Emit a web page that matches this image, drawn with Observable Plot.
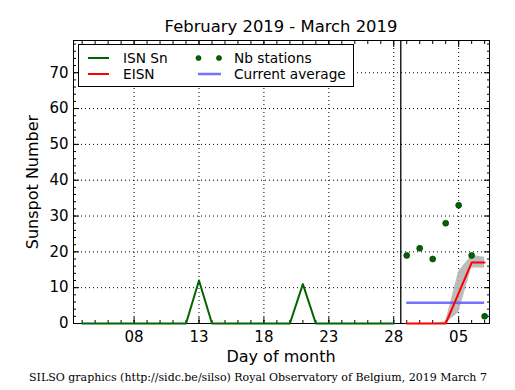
<!DOCTYPE html>
<html><head><meta charset="utf-8">
<script src="https://cdn.jsdelivr.net/npm/d3@7"></script>
<script src="https://cdn.jsdelivr.net/npm/@observablehq/plot@0.6"></script>
<style>body{margin:0;background:#fff} svg{display:block}</style>
</head><body><div id="chart"></div>
<script>
// ---- data ----
const isnDays = ["2019-02-04","2019-02-05","2019-02-06","2019-02-07","2019-02-08","2019-02-09","2019-02-10","2019-02-11","2019-02-12","2019-02-13","2019-02-14","2019-02-15","2019-02-16","2019-02-17","2019-02-18","2019-02-19","2019-02-20","2019-02-21","2019-02-22","2019-02-23","2019-02-24","2019-02-25","2019-02-26","2019-02-27","2019-02-28"];
const isnValues = [0,0,0,0,0,0,0,0,0,12,0,0,0,0,0,0,0,11,0,0,0,0,0,0,0];
const curDays = ["2019-03-01","2019-03-02","2019-03-03","2019-03-04","2019-03-05","2019-03-06","2019-03-07"];
const eisnValues = [0,0,0,0,8.5,17,17];
const eisnLow = [0,0,0,0,3,15.5,15.5];
const eisnHigh = [0,0,0,0.5,14.5,19,18.5];
const nbStations = [19,21,18,28,33,19,2];
const currentAverage = 5.8;
const monthSplit = "2019-02-28T13:00Z";
const xDomain = ["2019-02-03T08:00Z","2019-03-07T09:00Z"];
const xTickDates = ["2019-02-08","2019-02-13","2019-02-18","2019-02-23","2019-02-28","2019-03-05"];
const yTickValues = [0,10,20,30,40,50,60,70];
const titleText = "February 2019 - March 2019";
const xLabel = "Day of month";
const yLabel = "Sunspot Number";
const caption = "SILSO graphics (http://sidc.be/silso) Royal Observatory of Belgium, 2019 March 7";
const legendItems = ["ISN Sn","EISN","Nb stations","Current average"];

// ---- build ----
const D = s => new Date(s.length === 10 ? s + "T00:00Z" : s);
const isn = isnDays.map((d,i) => ({date: D(d), value: isnValues[i]}));
const cur = curDays.map((d,i) => ({date: D(d), eisn: eisnValues[i], low: eisnLow[i], high: eisnHigh[i], st: nbStations[i]}));
const avgRule = [{x1: D(curDays[0]), x2: D(curDays[curDays.length-1]), y: currentAverage}];
const xMajor = xTickDates.map(D);
const xMinor = d3.utcDay.range(D("2019-02-04"), D("2019-03-08"));
const yMinor = d3.range(0, 79, 2);
const GREEN = "#006400";
const dotted = {stroke: "#000", strokeOpacity: 1, strokeWidth: 1, strokeDasharray: "1,3"};
const noText = () => "";

const plot = Plot.plot({
  width: 515, height: 390,
  marginLeft: 73, marginRight: 26, marginTop: 40, marginBottom: 67,
  style: {fontFamily: "'DejaVu Sans', sans-serif", fontSize: "15px", background: "white", color: "black", overflow: "visible"},
  x: {type: "utc", domain: xDomain.map(D)},
  y: {domain: [0, 79]},
  marks: [
    Plot.gridY(yTickValues.filter(v => v > 0), dotted),
    Plot.gridX(xMajor, dotted),
    Plot.frame({stroke: "black", strokeWidth: 1}),
    Plot.axisX(xMinor, {anchor: "bottom", tickSize: -3, tickFormat: noText, label: null}),
    Plot.axisX(xMinor, {anchor: "top", tickSize: -3, tickFormat: noText, label: null}),
    Plot.axisX(xMajor, {anchor: "bottom", tickSize: -6, tickFormat: noText, label: null}),
    Plot.axisX(xMajor, {anchor: "top", tickSize: -6, tickFormat: noText, label: null}),
    Plot.axisY(yMinor, {anchor: "left", tickSize: -3, tickFormat: noText, label: null}),
    Plot.axisY(yMinor, {anchor: "right", tickSize: -3, tickFormat: noText, label: null}),
    Plot.axisY(yTickValues, {anchor: "left", tickSize: -6, tickFormat: noText, label: null}),
    Plot.axisY(yTickValues, {anchor: "right", tickSize: -6, tickFormat: noText, label: null}),
    Plot.axisX(xMajor, {anchor: "bottom", tickSize: 0, tickPadding: 8, tickFormat: d3.utcFormat("%d"), label: null, fontSize: 15}),
    Plot.axisY(yTickValues, {anchor: "left", tickSize: 0, tickPadding: 5, label: null, fontSize: 15}),
    Plot.areaY(cur, {x: "date", y1: "low", y2: "high", fill: "#b0b0b0", fillOpacity: 0.85}),
    Plot.ruleX([D(monthSplit)], {stroke: "black", strokeWidth: 1.3}),
    Plot.lineY(isn, {x: "date", y: "value", stroke: GREEN, strokeWidth: 2}),
    Plot.ruleY(avgRule, {x1: "x1", x2: "x2", y: "y", stroke: "#5a5aff", strokeWidth: 2.5, strokeOpacity: 0.85}),
    Plot.lineY(cur, {x: "date", y: "eisn", stroke: "#ff0000", strokeWidth: 2}),
    Plot.dot(cur, {x: "date", y: "st", r: 3, fill: GREEN, stroke: "#003000", strokeWidth: 0.6})
  ]
});
document.getElementById("chart").appendChild(plot);

// ---- annotations (title, labels, legend, caption) ----
const svg = d3.select(plot);
const txt = (x, y, s, opts = {}) => svg.append("text")
  .attr("x", x).attr("y", y).text(s)
  .attr("text-anchor", opts.anchor || "middle")
  .attr("font-size", opts.size || 16)
  .attr("font-family", opts.family || "'DejaVu Sans', sans-serif")
  .attr("fill", "black");
txt(281, 32, titleText, {size: 16.4});
txt(281, 362, xLabel, {size: 16});
svg.append("text").text(yLabel)
  .attr("transform", "translate(38,182) rotate(-90)")
  .attr("text-anchor", "middle").attr("font-size", 16)
  .attr("font-family", "'DejaVu Sans', sans-serif");
txt(258, 381, caption, {size: 11, family: "'DejaVu Serif', serif"});

const lg = svg.append("g");
lg.append("rect").attr("x", 78.5).attr("y", 44.5).attr("width", 275).attr("height", 42)
  .attr("fill", "white").attr("stroke", "black").attr("stroke-width", 1);
const row1 = 58, row2 = 74;
lg.append("line").attr("x1", 88).attr("x2", 109).attr("y1", row1).attr("y2", row1).attr("stroke", GREEN).attr("stroke-width", 2);
lg.append("line").attr("x1", 88).attr("x2", 109).attr("y1", row2).attr("y2", row2).attr("stroke", "#ff0000").attr("stroke-width", 2);
[198.5, 219].forEach(cx => lg.append("circle").attr("cx", cx).attr("cy", row1).attr("r", 2.6).attr("fill", GREEN).attr("stroke", "#003000").attr("stroke-width", 0.5));
lg.append("line").attr("x1", 198).attr("x2", 221).attr("y1", row2).attr("y2", row2).attr("stroke", "#5a5aff").attr("stroke-opacity", 0.85).attr("stroke-width", 2.5);
[[123, row1, legendItems[0]], [123, row2, legendItems[1]], [234, row1, legendItems[2]], [234, row2, legendItems[3]]]
  .forEach(([x, y, s]) => lg.append("text").attr("x", x).attr("y", y).attr("dy", "0.35em").text(s)
    .attr("text-anchor", "start")
    .attr("font-size", 13.7).attr("font-family", "'DejaVu Sans', sans-serif").attr("fill", "black"));
</script>
</body></html>
